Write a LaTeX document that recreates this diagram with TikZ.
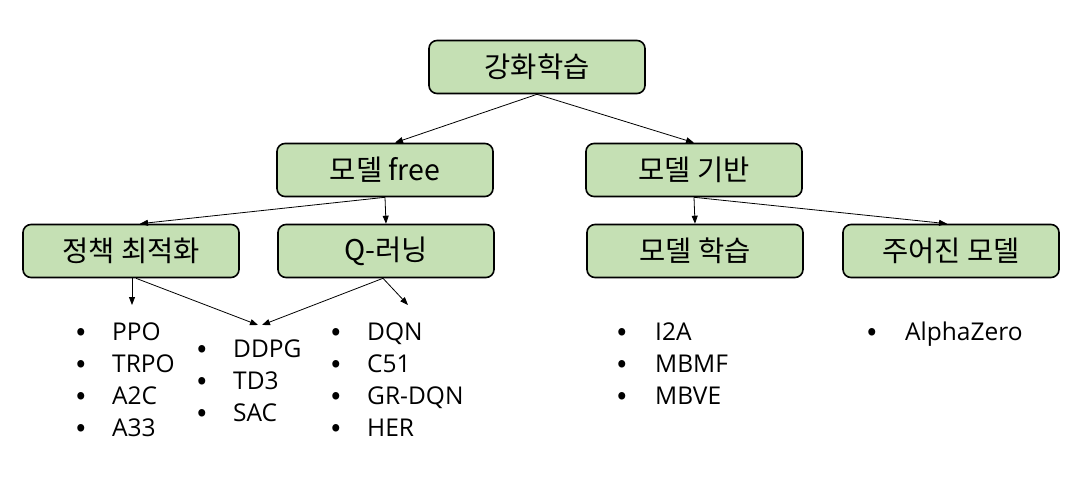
\documentclass[tikz,border=0pt]{standalone}
\usepackage{fontspec}
\setmainfont{Noto Sans CJK KR}
\newfontfamily\listfont{Open Sans}
\newfontfamily\dotfont{Noto Sans CJK KR}
\usetikzlibrary{arrows.meta}
\definecolor{boxgreen}{HTML}{C5E0B4}
\newcommand{\listdot}[1]{\makebox[#1][l]{\dotfont\fontsize{28}{28}\selectfont•}}
\tikzset{
  box/.style={draw=black, line width=1.6pt, fill=boxgreen, rounded corners=8pt,
    minimum width=216pt, minimum height=53pt, inner sep=0pt,
    font=\fontsize{28.5}{32}\selectfont},
  link/.style={-{Triangle[length=8pt,width=6pt]}, line width=0.8pt},
  item/.style={anchor=base west, inner sep=0pt, font=\listfont\fontsize{24.5}{28}\selectfont}
}
\begin{document}
\begin{tikzpicture}[x=1pt,y=-1pt]
  \useasboundingbox (0,0) rectangle (1086,492);

  \node[box] (rl) at (537,67) {강화학습};
  \node[box] (free) at (385,170) {모델 free};
  \node[box] (based) at (694,170) {모델 기반};
  \node[box] (policy) at (131,251) {정책 최적화};
  \node[box] (qlearn) at (386,251) {Q-러닝};
  \node[box] (learned) at (695,251) {모델 학습};
  \node[box] (given) at (951,251) {주어진 모델};

  \draw[link] (rl.south) -- ([xshift=10pt]free.north);
  \draw[link] (rl.south) -- (based.north);
  \draw[link] (free.south) -- ([xshift=9pt]policy.north);
  \draw[link] (free.south) -- (qlearn.north);
  \draw[link] (based.south) -- (learned.north);
  \draw[link] (based.south) -- ([xshift=-4pt]given.north);

  \coordinate (policylist) at (132,305);
  \coordinate (mixlist) at (260,325);
  \coordinate (qlist) at (408,305);
  \draw[link] ([xshift=1pt]policy.south) -- (policylist);
  \draw[link] ([xshift=5pt]policy.south) -- ([xshift=-2pt]mixlist);
  \draw[link] ([xshift=-3pt]qlearn.south) -- ([xshift=2pt]mixlist);
  \draw[link] ([xshift=-3pt]qlearn.south) -- (qlist);

  \foreach \t [count=\i] in {PPO,TRPO,A2C,A33}
    \node[item] (pol\i) at (76,340+32*\i-32) {\listdot{36pt}\t};
  \foreach \t [count=\i] in {DDPG,TD3,SAC}
    \node[item] (mix\i) at (197,357+32*\i-32) {\listdot{36pt}\t};
  \foreach \t [count=\i] in {DQN,C51,GR-DQN,HER}
    \node[item] (q\i) at (331,340+32*\i-32) {\listdot{36pt}\t};
  \foreach \t [count=\i] in {I2A,MBMF,MBVE}
    \node[item] (ml\i) at (617,340+32*\i-32) {\listdot{38pt}\t};
  \node[item] (az) at (867,340) {\listdot{38pt}AlphaZero};
\end{tikzpicture}
\end{document}
